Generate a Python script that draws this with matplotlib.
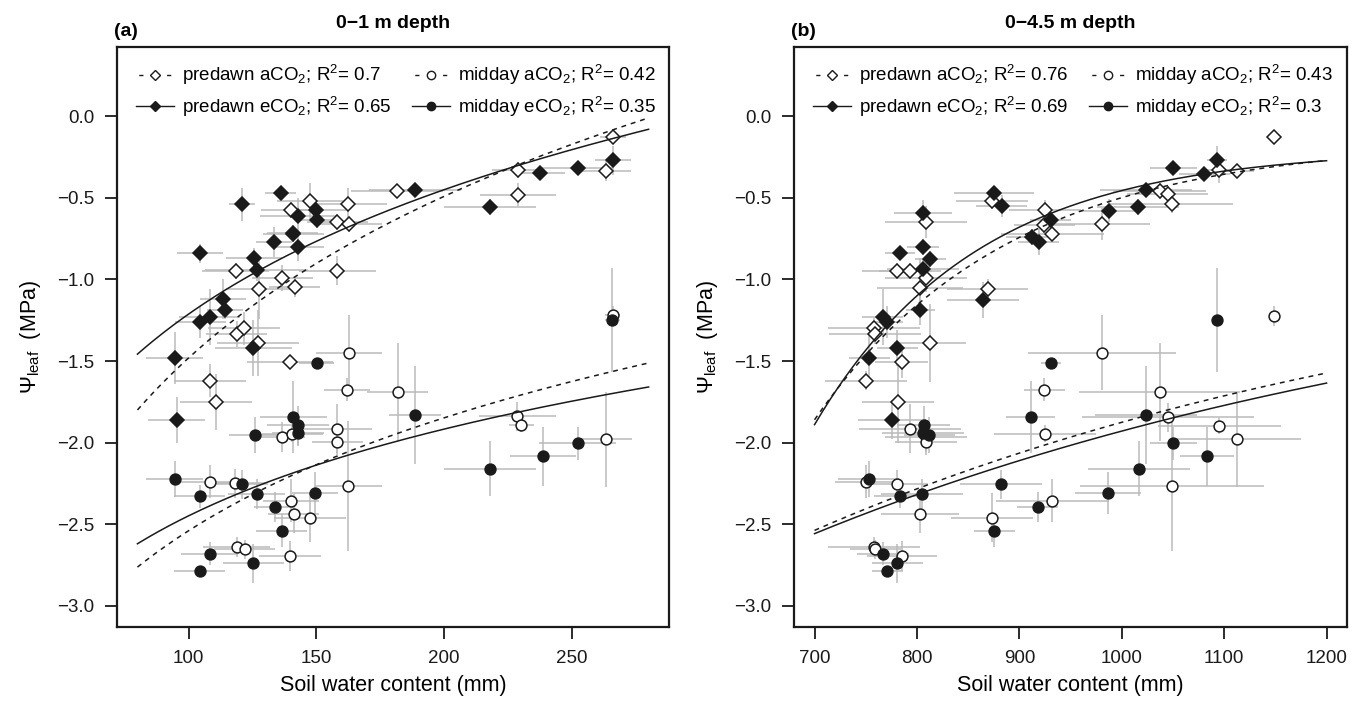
import numpy as np
import matplotlib
matplotlib.use("Agg")
import matplotlib.pyplot as plt
from matplotlib.lines import Line2D

plt.rcParams['font.family'] = ['Liberation Sans', 'DejaVu Sans']
plt.rcParams['mathtext.fontset'] = 'custom'
plt.rcParams['mathtext.rm'] = 'Liberation Sans'
plt.rcParams['mathtext.it'] = 'Liberation Sans:italic'
plt.rcParams['mathtext.default'] = 'regular'

# ---------------- panel (a): 0-1 m depth ----------------
a_pre_e_x = [94.5, 95.3, 104.4, 104.5, 108.2, 113.6, 114.3, 121.0, 125.3, 125.6, 126.6, 133.4,
             136.0, 141.0, 142.8, 142.8, 149.7, 150.1, 188.6, 218.0, 237.4, 252.2, 266.1]
a_pre_e_y = [-1.48, -1.86, -0.84, -1.26, -1.23, -1.12, -1.19, -0.54, -1.42, -0.87, -0.94, -0.77,
             -0.47, -0.72, -0.61, -0.80, -0.575, -0.635, -0.45, -0.555, -0.35, -0.32, -0.27]
a_pre_e_xe = [11, 11, 9, 10, 12, 9, 7, 5, 15, 11, 20, 7, 6, 12, 15, 10, 12, 8, 18, 18, 10, 14, 7]
a_pre_e_ye = [0.16, 0.14, 0.06, 0.10, 0.17, 0.12, 0.05, 0.10, 0.17, 0.06, 0.07, 0.09,
              0.03, 0.05, 0.11, 0.09, 0.05, 0.05, 0.03, 0.05, 0.03, 0.03, 0.09]

a_pre_a_x = [108.3, 110.7, 118.4, 118.8, 121.7, 127.1, 127.5, 136.7, 139.7, 140.2, 140.7, 141.5,
             147.5, 158.2, 158.2, 162.5, 162.8, 181.7, 228.9, 228.9, 263.3, 266.1]
a_pre_a_y = [-1.62, -1.75, -0.947, -1.335, -1.30, -1.39, -1.06, -0.99, -1.505, -0.575, -0.718, -1.045,
             -0.518, -0.647, -0.947, -0.54, -0.661, -0.46, -0.33, -0.48, -0.335, -0.13]
a_pre_a_xe = [14, 14, 13, 12, 14, 16, 13, 12, 17, 12, 10, 10, 13, 12, 15, 15, 13, 18, 10, 15, 10, 5]
a_pre_a_ye = [0.10, 0.17, 0.05, 0.08, 0.10, 0.20, 0.18, 0.08, 0.03, 0.05, 0.05, 0.06,
              0.11, 0.05, 0.09, 0.10, 0.05, 0.03, 0.05, 0.07, 0.06, 0.03]

a_mid_a_x = [108.3, 118.0, 118.8, 121.9, 136.7, 139.7, 140.2, 140.6, 141.2, 147.5, 157.9, 158.2,
             162.1, 162.5, 162.8, 181.8, 228.7, 230.2, 263.4, 265.9]
a_mid_a_y = [-2.24, -2.25, -2.64, -2.655, -1.965, -2.695, -2.355, -1.945, -2.435, -2.46, -1.915, -1.995,
             -1.675, -2.265, -1.45, -1.69, -1.84, -1.895, -1.98, -1.22]
a_mid_a_xe = [12, 12, 13, 12, 9, 12, 11, 12, 10, 14, 14, 10, 9, 13, 13, 12, 15, 5, 10, 3]
a_mid_a_ye = [0.10, 0.09, 0.06, 0.06, 0.09, 0.09, 0.13, 0.05, 0.12, 0.15, 0.15, 0.08,
              0.07, 0.40, 0.23, 0.30, 0.09, 0.04, 0.29, 0.06]

a_mid_e_x = [94.5, 104.4, 104.4, 108.2, 120.9, 125.3, 126.0, 126.6, 133.7, 136.4, 141.0, 142.8,
             142.8, 149.5, 150.1, 188.6, 218.0, 238.7, 252.2, 265.8]
a_mid_e_y = [-2.225, -2.33, -2.79, -2.68, -2.255, -2.74, -1.955, -2.315, -2.395, -2.54, -1.845, -1.895,
             -1.94, -2.31, -1.515, -1.83, -2.16, -2.085, -2.005, -1.25]
a_mid_e_xe = [11, 10, 10, 11, 10, 12, 10, 11, 8, 10, 13, 12, 10, 9, 7, 10, 18, 13, 15, 3]
a_mid_e_ye = [0.11, 0.07, 0.03, 0.07, 0.09, 0.12, 0.11, 0.09, 0.09, 0.10, 0.22, 0.12,
              0.08, 0.13, 0.02, 0.30, 0.17, 0.18, 0.10, 0.32]

# fitted curves, y = c0 + c1 * ln(x)
a_fit_range = (80, 280)
a_fit_pre_a = (-8.062, 1.429)
a_fit_pre_e = (-6.278, 1.100)
a_fit_mid_a = (-7.139, 0.9986)
a_fit_mid_e = (-5.981, 0.767)
a_r2 = ["0.7", "0.65", "0.42", "0.35"]

# ---------------- panel (b): 0-4.5 m depth ----------------
b_pre_e_x = [753.4, 766.8, 771.2, 775.5, 780.8, 783.5, 803.2, 805.9, 805.9, 805.9, 812.9, 864.4,
             875.4, 882.9, 912.2, 918.7, 930.8, 987.1, 1016.3, 1023.9, 1050.5, 1080.5, 1092.9]
b_pre_e_y = [-1.48, -1.23, -1.26, -1.86, -1.42, -0.84, -1.19, -0.595, -0.80, -0.935, -0.875, -1.125,
             -0.47, -0.55, -0.74, -0.77, -0.635, -0.58, -0.555, -0.45, -0.32, -0.355, -0.27]
b_pre_e_xe = [20, 20, 15, 33, 20, 15, 14, 28, 16, 35, 15, 35, 39, 25, 25, 20, 20, 30, 40, 45, 23, 25, 10]
b_pre_e_ye = [0.16, 0.17, 0.10, 0.12, 0.11, 0.04, 0.09, 0.08, 0.05, 0.06, 0.05, 0.11,
              0.03, 0.07, 0.05, 0.08, 0.05, 0.07, 0.05, 0.03, 0.03, 0.03, 0.09]

b_pre_a_x = [750.1, 758.3, 759.2, 780.8, 781.8, 785.2, 793.2, 802.9, 808.8, 808.8, 812.9, 868.9,
             873.2, 924.3, 925.3, 932.3, 980.6, 1036.9, 1044.7, 1048.9, 1094.5, 1113.0, 1148.9]
b_pre_a_y = [-1.62, -1.295, -1.335, -0.947, -1.75, -1.505, -0.947, -1.05, -0.647, -0.99, -1.39, -1.06,
             -0.518, -0.667, -0.575, -0.724, -0.661, -0.456, -0.477, -0.54, -0.33, -0.335, -0.13]
b_pre_a_xe = [40, 45, 45, 34, 35, 26, 30, 42, 40, 40, 35, 40, 35, 30, 35, 50, 47, 45, 40, 60, 15, 16, 3]
b_pre_a_ye = [0.06, 0.06, 0.06, 0.05, 0.25, 0.10, 0.05, 0.18, 0.10, 0.09, 0.24, 0.06,
              0.05, 0.05, 0.06, 0.03, 0.10, 0.05, 0.05, 0.05, 0.08, 0.04, 0.03]

b_mid_a_x = [750.1, 758.3, 759.2, 780.8, 785.2, 793.2, 802.9, 808.8, 808.8, 873.2, 924.3, 925.3,
             932.3, 980.6, 1036.9, 1044.7, 1048.9, 1095.4, 1112.4, 1148.9]
b_mid_a_y = [-2.24, -2.64, -2.655, -2.255, -2.695, -1.915, -2.435, -1.965, -1.995, -2.46, -1.675, -1.945,
             -2.355, -1.45, -1.69, -1.845, -2.265, -1.90, -1.98, -1.225]
b_mid_a_xe = [30, 45, 25, 30, 34, 50, 38, 40, 30, 40, 20, 50, 55, 72, 79, 84, 90, 60, 63, 3]
b_mid_a_ye = [0.10, 0.06, 0.06, 0.09, 0.09, 0.15, 0.12, 0.09, 0.08, 0.15, 0.07, 0.05,
              0.13, 0.23, 0.30, 0.09, 0.40, 0.05, 0.29, 0.06]

b_mid_e_x = [752.7, 766.8, 771.2, 780.8, 783.5, 804.9, 805.9, 806.5, 812.2, 875.4, 881.9, 911.2,
             918.1, 930.8, 986.5, 1016.7, 1023.9, 1050.5, 1083.2, 1092.9]
b_mid_e_y = [-2.225, -2.68, -2.79, -2.74, -2.33, -2.315, -1.94, -1.895, -1.955, -2.54, -2.255, -1.845,
             -2.395, -1.515, -2.31, -2.16, -1.83, -2.005, -2.085, -1.25]
b_mid_e_xe = [30, 25, 15, 25, 25, 40, 40, 26, 25, 20, 40, 24, 20, 10, 32, 50, 50, 23, 26, 3]
b_mid_e_ye = [0.11, 0.07, 0.03, 0.12, 0.07, 0.09, 0.08, 0.12, 0.11, 0.10, 0.09, 0.22,
              0.09, 0.02, 0.13, 0.17, 0.30, 0.10, 0.18, 0.32]

# fitted curves, y = c0 - c1 * exp(-c2 * (x - 700))
b_fit_range = (700, 1200)
b_fit_pre_a = (-0.15, 1.71, 0.0053)
b_fit_pre_e = (-0.20, 1.69, 0.0063)
b_fit_mid_a = (-0.71, 1.828, 0.0015)
b_fit_mid_e = (-0.725, 1.833, 0.0014)
b_r2 = ["0.76", "0.69", "0.43", "0.3"]

GREY = "#bababa"
INK = "#1a1a1a"
DASH = (0, (3.2, 3.2))
LEG_DASH = (8.0, (3, 7))

groups_style = {
    "pre_a": dict(marker="D", ms=7.2, lms=5.2, mfc="white", ls=DASH, lls=LEG_DASH),
    "pre_e": dict(marker="D", ms=7.2, lms=5.2, mfc=INK, ls="-", lls="-"),
    "mid_a": dict(marker="o", ms=7.8, lms=6.0, mfc="white", ls=DASH, lls=LEG_DASH),
    "mid_e": dict(marker="o", ms=7.8, lms=6.0, mfc=INK, ls="-", lls="-"),
}


def draw_group(ax, x, y, xe, ye, key):
    st = groups_style[key]
    ax.errorbar(x, y, xerr=xe, yerr=ye, fmt="none", ecolor=GREY, elinewidth=1.1,
                capsize=0, zorder=1)
    ax.plot(x, y, ls="none", marker=st["marker"], ms=st["ms"], mfc=st["mfc"],
            mec=INK, mew=1.1, zorder=3)


def style_axes(ax, xlim, xticks):
    ax.set_xlim(*xlim)
    ax.set_ylim(-3.13, 0.425)
    ax.set_xticks(xticks)
    ax.set_yticks([-3.0, -2.5, -2.0, -1.5, -1.0, -0.5, 0.0])
    ax.yaxis.set_major_formatter(matplotlib.ticker.FuncFormatter(
        lambda v, p: f"{v:.1f}".replace("-", "\u2212")))
    ax.tick_params(direction="out", length=8.5, width=1.3, labelsize=13.5, pad=8,
                   colors=INK)
    for s in ax.spines.values():
        s.set_linewidth(1.6)
        s.set_color(INK)
    ax.set_xlabel("Soil water content (mm)", fontsize=15.5, labelpad=6)
    ax.set_ylabel(r"$\Psi_{leaf}$  (MPa)", fontsize=15.5, labelpad=10)


def add_legend(ax, r2):
    def h(key):
        st = groups_style[key]
        return Line2D([], [], color=INK, lw=1.0, ls=st["lls"], marker=st["marker"],
                      ms=st["lms"], mfc=st["mfc"], mec=INK, mew=1.0)
    handles = [h("pre_a"), h("pre_e"), h("mid_a"), h("mid_e")]
    labels = [f"predawn aCO$_2$; R$^2$= {r2[0]}",
              f"predawn eCO$_2$; R$^2$= {r2[1]}",
              f"midday aCO$_2$; R$^2$= {r2[2]}",
              f"midday eCO$_2$; R$^2$= {r2[3]}"]
    ax.legend(handles, labels, ncol=2, loc="upper left", bbox_to_anchor=(0.035, 0.972),
              frameon=False, fontsize=13.5, handlelength=2.0, handletextpad=0.45,
              columnspacing=1.1, labelspacing=0.38, borderpad=0, borderaxespad=0)


fig = plt.figure(figsize=(13.59, 7.09), dpi=100)
ax_a = fig.add_axes([0.0861, 0.1157, 0.4062, 0.8181])
ax_b = fig.add_axes([0.5843, 0.1157, 0.4069, 0.8181])

# panel (a)
draw_group(ax_a, a_pre_a_x, a_pre_a_y, a_pre_a_xe, a_pre_a_ye, "pre_a")
draw_group(ax_a, a_mid_a_x, a_mid_a_y, a_mid_a_xe, a_mid_a_ye, "mid_a")
draw_group(ax_a, a_pre_e_x, a_pre_e_y, a_pre_e_xe, a_pre_e_ye, "pre_e")
draw_group(ax_a, a_mid_e_x, a_mid_e_y, a_mid_e_xe, a_mid_e_ye, "mid_e")
xs = np.linspace(*a_fit_range, 200)
for c, ls in [(a_fit_pre_a, DASH), (a_fit_pre_e, "-"), (a_fit_mid_a, DASH), (a_fit_mid_e, "-")]:
    ax_a.plot(xs, c[0] + c[1] * np.log(xs), color=INK, lw=1.1, ls=ls, zorder=4)
style_axes(ax_a, (72, 288), [100, 150, 200, 250])
add_legend(ax_a, a_r2)

# panel (b)
draw_group(ax_b, b_pre_a_x, b_pre_a_y, b_pre_a_xe, b_pre_a_ye, "pre_a")
draw_group(ax_b, b_mid_a_x, b_mid_a_y, b_mid_a_xe, b_mid_a_ye, "mid_a")
draw_group(ax_b, b_pre_e_x, b_pre_e_y, b_pre_e_xe, b_pre_e_ye, "pre_e")
draw_group(ax_b, b_mid_e_x, b_mid_e_y, b_mid_e_xe, b_mid_e_ye, "mid_e")
xs = np.linspace(*b_fit_range, 200)
for c, ls in [(b_fit_pre_a, DASH), (b_fit_pre_e, "-"), (b_fit_mid_a, DASH), (b_fit_mid_e, "-")]:
    ax_b.plot(xs, c[0] - c[1] * np.exp(-c[2] * (xs - 700)), color=INK, lw=1.1, ls=ls, zorder=4)
style_axes(ax_b, (680, 1220), [700, 800, 900, 1000, 1100, 1200])
add_legend(ax_b, b_r2)

# titles and panel letters
for ax, title, letter in [(ax_a, "0\u22121 m depth", "(a)"), (ax_b, "0\u22124.5 m depth", "(b)")]:
    pos = ax.get_position()
    fig.text((pos.x0 + pos.x1) / 2, 1 - 23 / 709, title, ha="center", va="center",
             fontsize=14, fontweight="bold")
    fig.text(pos.x0 - 0.002, 1 - 31 / 709, letter, ha="left", va="center",
             fontsize=14, fontweight="bold")

fig.savefig("out.png", dpi=100)
